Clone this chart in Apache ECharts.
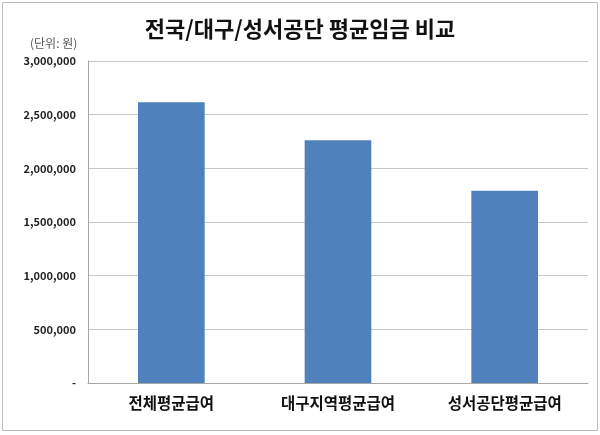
<!DOCTYPE html>
<html><head><meta charset="utf-8">
<script src="https://cdn.jsdelivr.net/npm/echarts@6/dist/echarts.min.js"></script>
<style>
html,body{margin:0;padding:0;background:#fff;}
#c{width:600px;height:435px;}
</style></head>
<body><div id="c"></div>
<script>
const categories = ['전체평균급여', '대구지역평균급여', '성서공단평균급여'];
const values = [2615000, 2261000, 1790000];
const titleText = '전국/대구/성서공단 평균임금 비교';
const unitText = '(단위: 원)';

const chart = echarts.init(document.getElementById('c'), null, {renderer: 'canvas'});
const font = '"Noto Sans CJK KR", "Noto Sans", sans-serif';
chart.setOption({
  animation: false,
  backgroundColor: '#fff',
  title: {
    text: titleText, left: 'center', top: 13,
    textStyle: {fontFamily: font, fontSize: 22, fontWeight: 'bold', color: '#111'}
  },
  graphic: [
    {type: 'rect', shape: {x: 2.5, y: 2.5, width: 595, height: 428}, style: {fill: 'none', stroke: '#bdbdbd', lineWidth: 1}, silent: true},
    {type: 'text', left: 30, top: 37, style: {text: unitText, fontFamily: font, fontSize: 12, fill: '#555'}}
  ],
  grid: {left: 88, right: 12, top: 61, bottom: 52, containLabel: false},
  xAxis: {
    type: 'category', data: categories,
    axisLine: {show: true, lineStyle: {color: '#a6a6a6'}},
    axisTick: {show: false},
    axisLabel: {fontFamily: font, fontSize: 15.5, fontWeight: 'bold', color: '#111', margin: 12}
  },
  yAxis: {
    type: 'value', min: 0, max: 3000000, interval: 500000,
    axisLine: {show: true, lineStyle: {color: '#a6a6a6'}},
    axisTick: {show: false},
    splitLine: {lineStyle: {color: '#c8c8c8'}},
    axisLabel: {
      fontFamily: font, fontSize: 11, fontWeight: 'bold', color: '#222', margin: 12,
      formatter: v => v === 0 ? '-' : v.toLocaleString('en-US')
    }
  },
  series: [{
    type: 'bar', data: values, barWidth: '40%',
    itemStyle: {color: '#4f81bd'}
  }]
});
</script></body></html>
